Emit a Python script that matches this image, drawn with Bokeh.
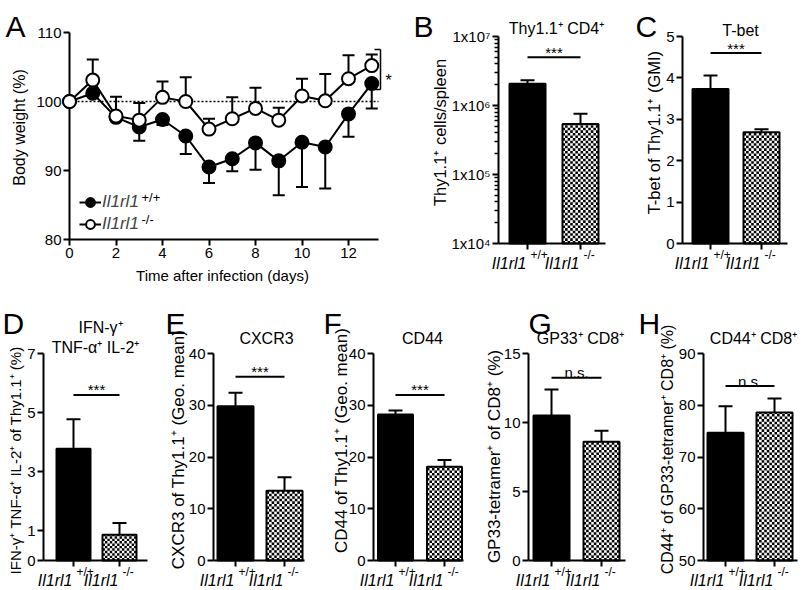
import math
from bokeh.plotting import figure
from bokeh.layouts import row, column
from bokeh.models import (Range1d, FixedTicker, Label, Arrow, Legend, LegendItem,
                          CustomJSTickFormatter)
from bokeh.embed import file_html
from bokeh.resources import INLINE

FONT = "Liberation Sans"

# ---------------- data ----------------
days = [0, 1, 2, 3, 4, 5, 6, 7, 8, 9, 10, 11, 12, 13]
wt_mean = [100, 101.2, 97.7, 96.3, 97.4, 95.0, 90.5, 91.7, 94.0, 91.4, 94.1, 93.4, 98.2, 102.6]
wt_lower = [100, 101.2, 97.7, 94.3, 96.6, 92.4, 88.2, 89.9, 90.1, 86.4, 87.6, 87.4, 94.9, 99.0]
ko_mean = [100, 103.1, 97.9, 97.3, 100.6, 100.0, 96.0, 97.5, 99.0, 97.3, 100.8, 100.1, 103.3, 105.2]
ko_upper = [100, 106.1, 100.7, 99.8, 102.9, 103.5, 97.5, 100.6, 102.0, 99.1, 103.3, 104.0, 106.7, 106.8]
day_ticks = [0, 2, 4, 6, 8, 10, 12]
weight_ticks = [80, 90, 100, 110]

genotype = "Il1rl1"
genotype_sup = ["+/+", "-/-"]

thy_cells = [2.07e6, 5.4e5]
thy_cells_sem = [0.25e6, 0.22e6]
cell_ticks = [1e4, 1e5, 1e6, 1e7]
cell_tick_labels = ["1x10\u2074", "1x10\u2075", "1x10\u2076", "1x10\u2077"]

tbet = [3.73, 2.69]
tbet_sem = [0.33, 0.07]
triple = [3.78, 0.87]
triple_sem = [1.0, 0.4]
cxcr3 = [29.8, 13.5]
cxcr3_sem = [2.6, 2.6]
cd44 = [28.2, 18.1]
cd44_sem = [0.8, 1.3]
gp33 = [10.5, 8.6]
gp33_sem = [1.9, 0.8]
cd44_cd8 = [74.7, 78.6]
cd44_cd8_sem = [5.1, 2.7]


# ---------------- pixel <-> data mapping per figure ----------------
class M:
    def __init__(self, X, Y, W, H, xv, xp, yv, yp, log=False):
        self.X, self.Y, self.W, self.H = X, Y, W, H
        self.xv, self.xp, self.yv, self.yp, self.log = xv, xp, yv, yp, log

    def x(self, px):
        (a, b), (pa, pb) = self.xv, self.xp
        return a + (px - pa) * (b - a) / (pb - pa)

    def px(self, x):
        (a, b), (pa, pb) = self.xv, self.xp
        return pa + (x - a) * (pb - pa) / (b - a)

    def y(self, py):
        (a, b), (qa, qb) = self.yv, self.yp
        if self.log:
            la, lb = math.log10(a), math.log10(b)
            return 10 ** (la + (py - qa) * (lb - la) / (qb - qa))
        return a + (py - qa) * (b - a) / (qb - qa)

    def py(self, y):
        (a, b), (qa, qb) = self.yv, self.yp
        if self.log:
            la, lb = math.log10(a), math.log10(b)
            return qa + (math.log10(y) - la) * (qb - qa) / (lb - la)
        return qa + (y - a) * (qb - qa) / (b - a)


def make_fig(m):
    p = figure(width=m.W, height=m.H, title=None,
               x_range=Range1d(m.x(m.X), m.x(m.X + m.W)),
               y_range=Range1d(m.y(m.Y + m.H), m.y(m.Y)),
               y_axis_type='log' if m.log else 'linear',
               output_backend="svg", toolbar_location=None,
               min_border_left=0, min_border_right=0, min_border_top=0, min_border_bottom=0)
    p.outline_line_color = None
    p.xgrid.visible = False
    p.ygrid.visible = False
    p.background_fill_color = "white"
    p.border_fill_color = "white"
    for ax in list(p.xaxis) + list(p.yaxis):
        ax.axis_line_width = 2
        ax.axis_line_color = "black"
        ax.major_tick_line_width = 2
        ax.major_tick_line_color = "black"
        ax.major_tick_in = 0
        ax.major_tick_out = 6
        ax.minor_tick_line_color = None
        ax.major_label_text_font = FONT
        ax.major_label_text_font_size = "15px"
        ax.major_label_text_color = "black"
        ax.major_label_standoff = 2
    return p


def lab(p, m, text, px, py, size="15px", align="left", baseline="alphabetic",
        style="normal", angle=0.0):
    p.add_layout(Label(x=m.x(px), y=m.y(py), text=text, text_font=FONT,
                       text_font_size=size, text_align=align, text_baseline=baseline,
                       text_font_style=style, text_color="black", angle=angle))


def seg(p, m, x0, y0, x1, y1, width=1.5, dash="solid", level="annotation"):
    p.add_layout(Arrow(end=None, x_start=m.x(x0), y_start=m.y(y0), x_end=m.x(x1),
                       y_end=m.y(y1), line_color="black", line_width=width,
                       line_dash=dash, level=level))


# ---------------- panel A ----------------
mA = M(0, 0, 405, 296, (0, 12), (69, 348), (110, 80), (32, 239))
pA = make_fig(mA)
pA.yaxis.fixed_location = 0
pA.yaxis.bounds = (weight_ticks[0], weight_ticks[-1])
pA.yaxis.level = "underlay"
pA.xaxis.fixed_location = weight_ticks[0]
pA.xaxis.bounds = (0, mA.x(378))
pA.xaxis.ticker = FixedTicker(ticks=day_ticks)
pA.yaxis.ticker = FixedTicker(ticks=weight_ticks)
seg(pA, mA, 69, mA.py(100), 378, mA.py(100), width=1.5, dash="2 2", level="underlay")

wt_eb = [(d, mu, lo) for d, mu, lo in zip(days, wt_mean, wt_lower) if lo < mu]
ko_eb = [(d, mu, hi) for d, mu, hi in zip(days, ko_mean, ko_upper) if hi > mu]
for eb in (wt_eb, ko_eb):
    pA.segment(x0=[e[0] for e in eb], y0=[e[1] for e in eb], x1=[e[0] for e in eb],
               y1=[e[2] for e in eb], line_color="black", line_width=2)
    pA.scatter([e[0] for e in eb], [e[2] for e in eb], marker="dash", size=12,
               line_color="black", line_width=2)

wt_line = pA.line(days, wt_mean, line_color="black", line_width=2)
wt_pts = pA.scatter(days, wt_mean, size=13, fill_color="black", line_color="black", line_width=2)
ko_line = pA.line(days, ko_mean, line_color="black", line_width=2)
ko_pts = pA.scatter(days, ko_mean, size=13, fill_color="white", line_color="black", line_width=2)

legend = Legend(items=[LegendItem(label=genotype, renderers=[wt_line, wt_pts]),
                       LegendItem(label=genotype, renderers=[ko_line, ko_pts])],
                location=(79, 61), border_line_color=None, background_fill_alpha=0,
                padding=0, margin=0, spacing=0, glyph_width=22, glyph_height=22,
                label_height=20, label_standoff=1, label_text_font=FONT,
                label_text_font_style="italic", label_text_font_size="17px")
pA.add_layout(legend)
lab(pA, mA, genotype_sup[0], 141, 197, size="13px")
lab(pA, mA, genotype_sup[1], 141, 219, size="13px")

# significance bracket
seg(pA, mA, 380, 49, 380, 89)
seg(pA, mA, 374, 49, 380, 49)
seg(pA, mA, 374, 89, 380, 89)
lab(pA, mA, "*", 385, 80, size="16px")
lab(pA, mA, "A", 5, 26, size="30px")
lab(pA, mA, "Body weight (%)", 19, 127, size="16px", align="center", baseline="middle",
    angle=math.pi / 2)
lab(pA, mA, "Time after infection (days)", 222, 275, size="15px", align="center")


# ---------------- bar panels ----------------
def bar_panel(m, axis_px, end_px, bw_px, vals, sems, yticks, ylabel, titles, letter,
              sig_text, sig_y, tick_labels=None, minor=None):
    p = make_fig(m)
    y0 = yticks[0]
    p.yaxis.fixed_location = m.x(axis_px)
    p.yaxis.bounds = (yticks[0], yticks[-1])
    p.xaxis.fixed_location = y0
    p.xaxis.bounds = (m.x(axis_px), m.x(end_px))
    p.xaxis.ticker = FixedTicker(ticks=[1, 2])
    p.xaxis.formatter = CustomJSTickFormatter(code="return ''")
    if minor is not None:
        p.yaxis.ticker = FixedTicker(ticks=yticks, minor_ticks=minor)
        p.yaxis.minor_tick_line_color = "black"
        p.yaxis.minor_tick_line_width = 1.5
        p.yaxis.minor_tick_out = 4
        p.yaxis.minor_tick_in = 0
    else:
        p.yaxis.ticker = FixedTicker(ticks=yticks)
    if tick_labels is not None:
        p.yaxis.major_label_overrides = dict(zip(yticks, tick_labels))

    sp = m.xp[1] - m.xp[0]
    bw = bw_px / sp
    p.vbar(x=[1], top=[vals[0]], bottom=y0, width=bw, fill_color="black",
           line_color="black", line_width=2)
    p.vbar(x=[2], top=[vals[1]], bottom=y0, width=bw, fill_color="white",
           line_color=None)
    # checkerboard fill of the knockout bar
    left_px = m.px(2) - bw_px / 2
    bot_px = m.py(y0)
    top_px = m.py(vals[1])
    ncol = 14
    cell = bw_px / ncol
    ql, qr, qt, qb = [], [], [], []
    j = 0
    while bot_px - j * cell > top_px + 0.01:
        cb = bot_px - j * cell
        ct = max(bot_px - (j + 1) * cell, top_px)
        for i in range(ncol):
            if (i + j) % 2 == 0:
                ql.append(m.x(left_px + i * cell))
                qr.append(m.x(left_px + (i + 1) * cell))
                qb.append(m.y(cb))
                qt.append(m.y(ct))
        j += 1
    p.quad(left=ql, right=qr, top=qt, bottom=qb, fill_color="black", line_color=None)
    p.vbar(x=[2], top=[vals[1]], bottom=y0, width=bw, fill_color=None,
           line_color="black", line_width=2)

    tops = [v + e for v, e in zip(vals, sems)]
    p.segment(x0=[1, 2], y0=vals, x1=[1, 2], y1=tops, line_color="black", line_width=2)
    p.scatter([1, 2], tops, marker="dash", size=14, line_color="black", line_width=2)

    # significance line and text
    sy = m.py(sig_y)
    seg(p, m, m.px(1), sy, m.px(2), sy, width=2)
    lab(p, m, sig_text, m.px(1.5), sy - 5, size="15px", align="center")

    # category labels (italic gene name + genotype superscript)
    ay = m.py(y0)
    for i, sup in enumerate(genotype_sup):
        cx = m.px(i + 1)
        lab(p, m, genotype, cx - 1, ay + 20, size="16px", align="right", style="italic")
        lab(p, m, sup, cx + 3, ay + 11, size="12px")
    for (txt, tx, ty) in titles:
        lab(p, m, txt, tx, ty, size="16px", align="center")
    lab(p, m, letter[0], letter[1], letter[2], size="30px")
    lab(p, m, ylabel[0], ylabel[1], ylabel[2], size=ylabel[3], align="center",
        baseline="middle", angle=math.pi / 2)
    return p


BOT_H = 292

minorB = [k * 10 ** n for n in range(4, 7) for k in range(2, 10)]
mB = M(405, 0, 203, 296, (1, 2), (527, 580), (1e7, 1e4), (36, 243), log=True)
pB = bar_panel(mB, 498, 605, 36, thy_cells, thy_cells_sem, cell_ticks,
               ("Thy1.1\u207a cells/spleen", 439, 132, "16.5px"),
               [("Thy1.1\u207a CD4\u207a", 556, 28)], ("B", 413, 26), "***", 5e6,
               tick_labels=cell_tick_labels, minor=minorB)

mC = M(608, 0, 191, 296, (1, 2), (710, 761), (5, 0), (36, 243))
pC = bar_panel(mC, 682, 787, 36, tbet, tbet_sem, [0, 1, 2, 3, 4, 5],
               ("T-bet of Thy1.1\u207a (GMI)", 653, 132, "16.5px"),
               [("T-bet", 740, 30)], ("C", 635, 26), "***", 4.6)

mD = M(0, 296, 160, BOT_H, (1, 2), (73, 119), (7, 0), (353, 560))
pD = bar_panel(mD, 43, 147, 34, triple, triple_sem, [0, 1, 3, 5, 7],
               ("IFN-\u03b3\u207a TNF-\u03b1\u207a IL-2\u207a of Thy1.1\u207a (%)", 15, 460, "15px"),
               [("IFN-\u03b3\u207a", 100, 327), ("TNF-\u03b1\u207a IL-2\u207a", 95, 347)],
               ("D", 2, 323), "***", 5.6)

mE = M(160, 296, 160, BOT_H, (1, 2), (235, 284), (40, 0), (353, 560))
pE = bar_panel(mE, 213, 304, 36, cxcr3, cxcr3_sem, [0, 10, 20, 30, 40],
               ("CXCR3 of Thy1.1\u207a (Geo. mean)", 178, 449, "17px"),
               [("CXCR3", 266, 338)], ("E", 165, 323), "***", 35.5)

mF = M(320, 296, 158, BOT_H, (1, 2), (395, 444), (40, 0), (353, 560))
pF = bar_panel(mF, 373, 463, 35, cd44, cd44_sem, [0, 10, 20, 30, 40],
               ("CD44 of Thy1.1\u207a (Geo. mean)", 341, 440, "17px"),
               [("CD44", 422, 338)], ("F", 323, 323), "***", 32)

mG = M(478, 296, 158, BOT_H, (1, 2), (551, 601), (15, 0), (353, 560))
pG = bar_panel(mG, 528, 625, 36, gp33, gp33_sem, [0, 5, 10, 15],
               ("GP33-tetramer\u207a of CD8\u207a (%)", 494, 456, "17px"),
               [("GP33\u207a CD8\u207a", 580, 338)], ("G", 528, 323), "n.s.", 13.25)

mH = M(636, 296, 163, BOT_H, (1, 2), (725, 774), (90, 50), (353, 560))
pH = bar_panel(mH, 703, 797, 36, cd44_cd8, cd44_cd8_sem, [50, 60, 70, 80, 90],
               ("CD44\u207a of GP33-tetramer\u207a CD8\u207a (%)", 667, 449, "16px"),
               [("CD44\u207a CD8\u207a", 753, 338)], ("H", 638, 323), "n.s.", 83.7)

layout = column(row(pA, pB, pC), row(pD, pE, pF, pG, pH))
open("out.html", "w").write(file_html(layout, INLINE, title="Il1rl1"))
